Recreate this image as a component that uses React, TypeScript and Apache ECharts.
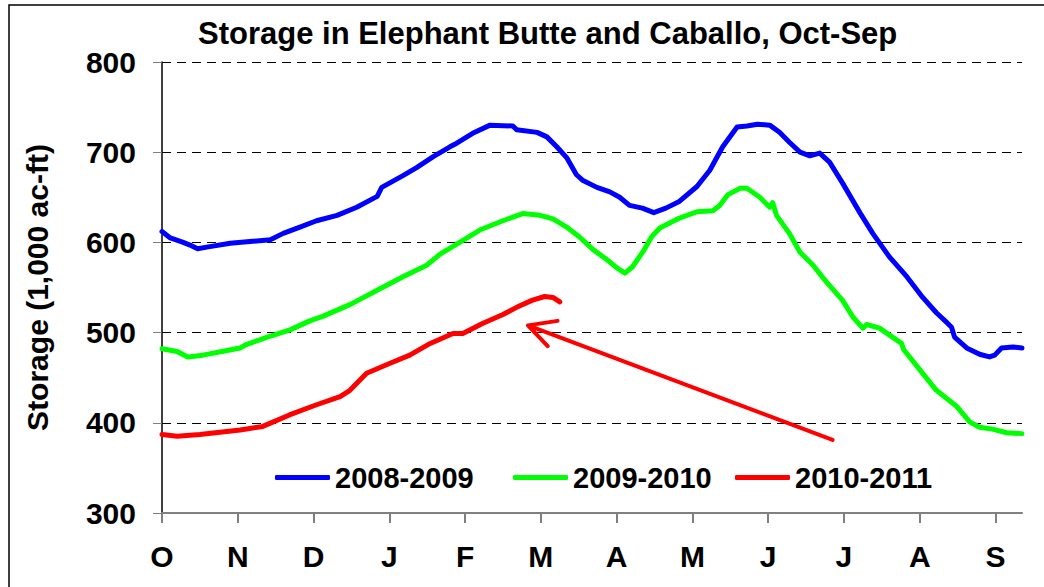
import React, { useEffect, useRef } from "react";
import * as echarts from "echarts";

const TITLE = "Storage in Elephant Butte and Caballo, Oct-Sep";
const Y_NAME = "Storage (1,000 ac-ft)";
const MONTH_LABELS = ["O", "N", "D", "J", "F", "M", "A", "M", "J", "J", "A", "S"];
const MONTH_TICKS = [0, 1, 2, 3, 4, 5, 6, 7, 8, 9, 10, 11];
const SERIES_NAMES = ["2008-2009", "2009-2010", "2010-2011"];
const SERIES_COLORS = ["#0000FF", "#00FF00", "#FF0000"];

// x in months since Oct 1
const x0809 = [0, 0.11, 0.28, 0.37, 0.47, 0.61, 0.9, 1.16, 1.43, 1.6, 1.82, 2.04, 2.31, 2.57, 2.84, 2.9, 3.18, 3.36, 3.58, 3.8,
  3.89, 4.1, 4.33, 4.63, 4.68, 4.95, 5.08, 5.21, 5.34, 5.47, 5.55, 5.74, 5.91, 6.04, 6.17, 6.34, 6.49, 6.65, 6.82, 7.06,
  7.23, 7.4, 7.59, 7.72, 7.86, 8.02, 8.15, 8.28, 8.42, 8.55, 8.68, 8.81, 8.98, 9.21, 9.38, 9.6, 9.83, 10.04, 10.22, 10.36,
  10.42, 10.46, 10.62, 10.79, 10.92, 10.99, 11.08, 11.23, 11.35];
const y0809 = [612, 605, 600, 597, 593, 595, 599, 601, 603, 610, 617, 624, 630, 639, 651, 661, 674, 683, 695, 706,
  710, 721, 730, 729, 725, 722, 717, 706, 694, 675, 669, 661, 656, 650, 641, 638, 633, 638, 645, 662,
  680, 706, 728, 729, 731, 730, 722, 711, 700, 696, 699, 689, 666, 633, 610, 584, 562, 539, 522, 511,
  506, 495, 483, 476, 473, 475, 483, 484, 483];

const x0910 = [0, 0.2, 0.34, 0.54, 0.79, 1.03, 1.12, 1.39, 1.69, 1.95, 2.12, 2.48, 2.84, 3.18, 3.5, 3.67, 3.89, 4.2, 4.5, 4.76,
  4.99, 5.16, 5.34, 5.51, 5.69, 5.87, 6.0, 6.11, 6.21, 6.35, 6.46, 6.57, 6.83, 7.06, 7.27, 7.36, 7.47, 7.63, 7.72, 7.89,
  8.02, 8.06, 8.11, 8.28, 8.42, 8.59, 8.77, 8.98, 9.12, 9.25, 9.3, 9.47, 9.64, 9.76, 9.79, 10.0, 10.22, 10.49, 10.66, 10.79,
  10.96, 11.15, 11.35];
const y0910 = [482, 479, 473, 475, 479, 483, 487, 495, 503, 513, 518, 531, 547, 562, 575, 587, 598, 614, 624, 632,
  630, 626, 617, 606, 592, 581, 572, 566, 573, 590, 606, 616, 627, 634, 635, 641, 653, 660, 660, 650,
  639, 644, 630, 610, 589, 575, 556, 536, 517, 505, 509, 505, 495, 488, 481, 459, 436, 418, 401, 395,
  393, 389, 388];

const x1011 = [0, 0.2, 0.5, 1.03, 1.33, 1.69, 2.04, 2.35, 2.48, 2.7, 3.01, 3.27, 3.54, 3.84, 3.97, 4.23, 4.5, 4.68, 4.89, 5.05,
  5.16, 5.25];
const y1011 = [387, 385, 387, 392, 396, 409, 420, 429, 436, 455, 466, 475, 488, 499, 499, 510, 520, 528, 536, 540,
  539, 534];

// annotation arrow (tail -> tip, then the two head arms), in data units
const ARROW_X = [8.85, 4.83, 5.22, 4.83, 5.09];
const ARROW_Y = [381, 508, 513, 508, 485];

const X_MAX = 11.35;
const FONT = "'Liberation Sans', Arial, sans-serif";
const LEGEND_LEFTS = [270, 508, 730];

const zip = (xs: number[], ys: number[]) => xs.map((x, i) => [x, ys[i]]);

export default function App() {
  const ref = useRef<HTMLDivElement>(null);
  useEffect(() => {
    if (!ref.current) return;
    const chart = echarts.init(ref.current, null, { renderer: "svg" });
    const datasets = [zip(x0809, y0809), zip(x0910, y0910), zip(x1011, y1011)];
    const lineSeries = SERIES_NAMES.map((name, i) => ({
      name,
      type: "line",
      data: datasets[i],
      symbol: "none",
      showSymbol: false,
      smooth: false,
      color: SERIES_COLORS[i],
      lineStyle: { color: SERIES_COLORS[i], width: 5, cap: "round", join: "round" },
      z: 3,
    }));
    chart.setOption({
      animation: false,
      backgroundColor: "#ffffff",
      title: {
        text: TITLE,
        left: 198,
        top: 18,
        padding: 0,
        textStyle: { fontFamily: FONT, fontWeight: "bold", fontSize: 31, color: "#000" },
      },
      grid: { left: 162, right: 22, top: 62, bottom: 74, containLabel: false },
      legend: SERIES_NAMES.map((n, i) => ({
        data: [{ name: n, icon: "roundRect" }],
        left: LEGEND_LEFTS[i],
        top: 458,
        itemWidth: 55,
        itemHeight: 5,
        textStyle: { fontFamily: FONT, fontWeight: "bold", fontSize: 29, color: "#000" },
      })),
      xAxis: {
        type: "value",
        min: 0,
        max: X_MAX,
        interval: 1,
        axisLine: { show: true, onZero: false, lineStyle: { color: "#808080", width: 2 } },
        axisTick: { show: true, length: 10, customValues: MONTH_TICKS, lineStyle: { color: "#808080", width: 2 } },
        axisLabel: {
          customValues: MONTH_TICKS,
          formatter: (v: number) => MONTH_LABELS[Math.round(v)] ?? "",
          margin: 28,
          fontFamily: FONT,
          fontWeight: "bold",
          fontSize: 30,
          color: "#000",
        },
        splitLine: { show: false },
      },
      yAxis: {
        type: "value",
        min: 300,
        max: 800,
        interval: 100,
        name: Y_NAME,
        nameLocation: "middle",
        nameGap: 110,
        nameTextStyle: { fontFamily: FONT, fontWeight: "bold", fontSize: 30, color: "#000" },
        axisLine: { show: true, lineStyle: { color: "#000", width: 1.5 } },
        axisTick: { show: true, length: 9, lineStyle: { color: "#808080", width: 1 } },
        axisLabel: { margin: 26, fontFamily: FONT, fontWeight: "bold", fontSize: 30, color: "#000" },
        splitLine: { show: true, showMinLine: false, lineStyle: { color: "#000", width: 1, type: [9, 6] } },
      },
      series: [
        ...lineSeries,
        {
          name: "arrow",
          type: "line",
          data: zip(ARROW_X, ARROW_Y),
          symbol: "none",
          silent: true,
          lineStyle: { color: "#FF0000", width: 4, cap: "round", join: "round" },
          z: 4,
        },
      ],
      graphic: [
        {
          type: "rect",
          shape: { x: 9, y: 5, width: 1200, height: 800 },
          style: { fill: "none", stroke: "#000", lineWidth: 1.5 },
          silent: true,
        },
      ],
    });
    return () => chart.dispose();
  }, []);
  return <div ref={ref} style={{ position: "fixed", left: 0, top: 0, width: 1044, height: 587 }} />;
}
